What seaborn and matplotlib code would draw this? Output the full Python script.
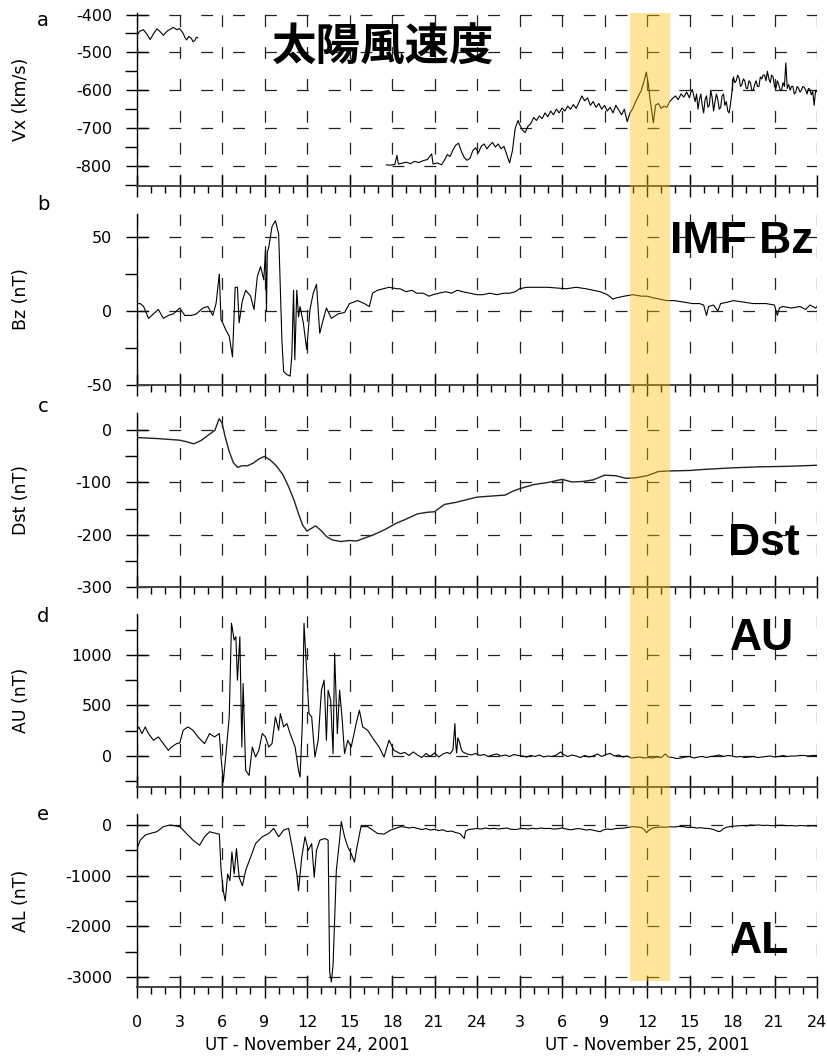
import matplotlib
matplotlib.use('Agg')
import matplotlib.pyplot as plt
import matplotlib.transforms as mtransforms
from matplotlib.patches import Rectangle
import seaborn as sns

# horas desde 0 UT del 24 de noviembre de 2001 (0-48)

# Vx viento solar (km/s), dos tramos con hueco de datos
vx_h1 = [0.0, 0.2, 0.45, 0.7, 0.93, 1.15, 1.4, 1.6, 1.86, 2.05, 2.2, 2.4, 2.56, 2.8,
         3.0, 3.15, 3.26, 3.4, 3.5, 3.65, 3.84, 3.95, 4.07, 4.2, 4.3]
vx_v1 = [-455, -444, -440, -452, -466, -452, -438, -444, -455, -447, -442, -438, -434, -440,
         -437, -444, -450, -462, -467, -458, -463, -472, -469, -460, -462]
vx_h2 = [17.6, 17.9, 18.2, 18.35, 18.45, 18.7, 19.0, 19.3, 19.6, 19.9, 20.2, 20.5, 20.8, 20.9,
         21.2, 21.5, 21.7, 21.9, 22.1, 22.3, 22.5, 22.7, 22.9, 23.1, 23.3, 23.5, 23.7, 23.9,
         24.1, 24.3, 24.5, 24.7, 24.9, 25.1, 25.3, 25.5, 25.7, 25.9, 26.1, 26.3, 26.5, 26.7,
         26.9, 27.0, 27.2, 27.4, 27.6, 27.8, 28.0, 28.2, 28.4, 28.6, 28.8, 29.0, 29.2, 29.4,
         29.6, 29.8, 30.0, 30.2, 30.4, 30.6, 30.8, 31.0, 31.2, 31.4, 31.6, 31.8, 32.0, 32.2,
         32.4, 32.6, 32.8, 33.0, 33.2, 33.4, 33.6, 33.8, 34.0, 34.2, 34.4, 34.6, 34.8, 35.0,
         35.2, 35.4, 35.6, 35.8, 35.95, 36.1, 36.2, 36.35, 36.45, 36.6, 36.8, 37.0, 37.2, 37.4,
         37.6, 37.8, 38.0, 38.2, 38.4, 38.6, 38.8, 39.0, 39.1, 39.2, 39.3, 39.4, 39.5, 39.6,
         39.7, 39.8, 39.9, 40.0, 40.1, 40.2, 40.3, 40.4, 40.5, 40.6, 40.7, 40.8, 40.9, 41.0,
         41.1, 41.2, 41.3, 41.4, 41.5, 41.6, 41.7, 41.8, 41.95, 42.1, 42.2, 42.3, 42.4, 42.5,
         42.6, 42.7, 42.8, 42.9, 43.0, 43.1, 43.2, 43.3, 43.4, 43.5, 43.6, 43.7, 43.8, 43.9,
         44.0, 44.1, 44.2, 44.3, 44.4, 44.5, 44.6, 44.7, 44.8, 44.9, 45.0, 45.1, 45.2, 45.3,
         45.4, 45.5, 45.6, 45.7, 45.8, 45.9, 46.0, 46.1, 46.2, 46.3, 46.4, 46.5, 46.6, 46.7,
         46.8, 46.9, 47.0, 47.1, 47.2, 47.3, 47.4, 47.5, 47.6, 47.7, 47.8, 47.9, 48.0]
vx_v2 = [-797, -798, -796, -772, -795, -793, -790, -794, -788, -791, -786, -783, -768, -795,
         -792, -797, -785, -770, -775, -758, -745, -740, -762, -778, -785, -780, -760, -752,
         -765, -748, -742, -755, -745, -738, -750, -742, -755, -748, -770, -792, -760, -700,
         -680, -690, -705, -712, -695, -688, -672, -680, -668, -675, -660, -670, -655, -665,
         -650, -660, -647, -655, -642, -650, -638, -648, -632, -615, -628, -620, -640, -630,
         -645, -635, -650, -640, -655, -645, -660, -640, -652, -665, -650, -683, -660, -648,
         -630, -615, -600, -575, -552, -585, -620, -660, -686, -640, -635, -648, -642, -645,
         -630, -622, -615, -625, -610, -618, -605, -620, -605, -598, -615, -630, -610, -650,
         -625, -610, -640, -660, -625, -615, -645, -640, -600, -620, -655, -630, -610, -625,
         -650, -645, -615, -610, -640, -630, -655, -660, -620, -565, -580, -575, -560, -568,
         -590, -585, -570, -575, -595, -595, -575, -580, -600, -600, -585, -575, -590, -590,
         -565, -570, -560, -560, -575, -550, -570, -580, -560, -565, -590, -595, -575, -585,
         -600, -600, -580, -590, -528, -595, -585, -600, -590, -590, -610, -605, -590, -595,
         -605, -600, -590, -592, -600, -610, -595, -598, -612, -603, -640, -600, -605]

# IMF Bz (nT)
bz_h = [0.0, 0.23, 0.47, 0.81, 1.16, 1.51, 1.86, 2.21, 2.56, 3.02, 3.37, 3.84, 4.19, 4.65,
        5.0, 5.35, 5.58, 5.81, 5.93, 6.05, 6.28, 6.51, 6.74, 6.93, 7.09, 7.21, 7.44, 7.67,
        8.02, 8.26, 8.49, 8.72, 8.95, 9.07, 9.14, 9.2, 9.3, 9.53, 9.77, 10.0, 10.1, 10.23,
        10.35, 10.58, 10.81, 10.93, 11.05, 11.14, 11.28, 11.4, 11.51, 11.74, 11.98, 12.21,
        12.44, 12.67, 12.9, 13.14, 13.37, 13.72, 14.19, 14.65, 15.0, 15.58, 16.05, 16.4,
        16.63, 16.98, 17.79, 18.37, 18.56, 19.0, 19.4, 19.74, 20.2, 20.6, 20.9, 21.3, 21.8,
        22.2, 22.6, 23.0, 23.5, 24.0, 24.4, 24.9, 25.4, 25.9, 26.3, 26.7, 27.0, 27.5, 28.0,
        29.0, 30.3, 31.0, 31.7, 32.2, 32.7, 33.2, 33.6, 33.9, 34.4, 35.0, 35.6, 36.0, 36.4,
        36.9, 37.4, 37.9, 38.6, 39.2, 39.7, 40.0, 40.2, 40.35, 40.7, 41.0, 41.2, 41.7, 42.1,
        42.8, 43.5, 44.4, 45.0, 45.2, 45.35, 45.6, 46.2, 46.8, 47.2, 47.5, 47.9, 48.0]
bz_v = [5, 5, 3, -5, -2, 1, -5, -3, -2, 2, -3, -3, -2, 2,
        3, -3, 5, 25, -6, -8, -13, -17, -31, 16, 16, -8, 7, 14,
        10, 1, 23, 30, 21, 41, 0, 40, 43, 57, 61, 52, 20, -20,
        -41, -43, -44, -30, 14, -33, 14, -4, 3, -8, -26, 1,
        12, 18, -15, -6, 2, -5, -2, -1, 5, 7, 5, 3,
        12, 14, 16, 15, 15, 13, 14, 12, 12, 10, 11, 12, 13,
        12, 14, 13, 12, 11, 11, 12, 11, 12, 12, 13, 15, 16, 16,
        16, 15, 16, 15, 14, 13, 11, 8, 9, 10, 11, 10, 10, 9,
        8, 7, 7, 6, 5, 5, 4, -3, 3, 4, 0, 5, 6, 7,
        6, 5, 5, 4, -3, 2, 3, 2, 3, 1, 4, 2, 3]

# Dst (nT)
dst_h = [0, 1.5, 3.0, 3.5, 4.0, 4.5, 5.0, 5.5, 5.8, 6.0, 6.2, 6.5, 6.8, 7.1, 7.4, 7.8, 8.2,
         8.6, 9.0, 9.4, 9.8, 10.3, 10.7, 11.1, 11.4, 11.7, 12.0, 12.3, 12.6, 13.0, 13.4,
         13.8, 14.4, 15.0, 15.5, 16.0, 16.7, 17.5, 18.3, 19.0, 19.8, 20.5, 21.0, 21.7, 22.5,
         23.4, 24.0, 25.0, 26.0, 26.5, 27.0, 28.0, 29.0, 30.0, 30.7, 31.5, 32.2, 33.0, 33.8,
         34.5, 35.2, 36.0, 36.8, 37.5, 39.0, 40.0, 42.0, 44.0, 46.0, 48.0]
dst_v = [-14, -16, -19, -22, -26, -20, -10, 0, 22, 14, -10, -40, -62, -71, -68, -68, -63,
         -55, -50, -57, -67, -85, -108, -135, -160, -182, -193, -188, -183, -192, -204,
         -210, -213, -211, -212, -207, -200, -190, -178, -170, -160, -157, -156, -142, -138,
         -132, -128, -126, -124, -117, -112, -104, -100, -94, -99, -98, -95, -86, -87,
         -92, -91, -87, -79, -78, -77, -75, -72, -70, -69, -67]

# AU (nT)
au_h = [0.0, 0.12, 0.35, 0.58, 0.81, 1.16, 1.51, 1.86, 2.21, 2.44, 2.79, 3.02, 3.26, 3.6,
        3.95, 4.3, 4.77, 5.12, 5.47, 5.81, 5.93, 6.09, 6.28, 6.51, 6.67, 6.86, 6.98, 7.09,
        7.26, 7.4, 7.49, 7.67, 7.91, 8.14, 8.37, 8.6, 8.84, 9.07, 9.3, 9.53, 9.77, 10.0,
        10.12, 10.35, 10.58, 10.81, 11.16, 11.4, 11.51, 11.67, 11.79, 11.98, 12.14, 12.33,
        12.56, 12.79, 13.02, 13.21, 13.37, 13.49, 13.67, 13.84, 13.95, 14.14, 14.3, 14.47,
        14.65, 14.88, 15.12, 15.47, 15.7, 15.93, 16.28, 16.74, 17.09, 17.44, 17.79, 18.14,
        18.6, 18.9, 19.2, 19.5, 19.8, 20.1, 20.4, 20.7, 21.0, 21.3, 21.6, 21.9, 22.1, 22.3,
        22.44, 22.5, 22.56, 22.65, 22.8, 22.9, 23.0, 23.3, 23.6, 23.9, 24.2, 24.5, 24.8, 25.1,
        25.4, 25.7, 26.0, 26.3, 26.6, 26.9, 27.2, 27.5, 27.8, 28.1, 28.4, 28.7, 29.0, 29.3,
        29.6, 29.9, 30.1, 30.4, 30.7, 31.0, 31.3, 31.6, 31.9, 32.2, 32.5, 32.8, 33.1, 33.4,
        33.7, 34.0, 34.3, 34.6, 34.9, 35.2, 35.5, 35.8, 36.1, 36.4, 36.7, 37.0, 37.3, 37.5,
        37.8, 38.1, 38.4, 38.7, 39.0, 39.3, 39.6, 39.9, 40.2, 40.5, 40.8, 41.1, 41.4, 41.7,
        42.0, 42.3, 42.6, 42.9, 43.2, 43.5, 43.8, 44.1, 44.4, 44.7, 45.0, 45.3, 45.6, 45.9,
        46.2, 46.5, 46.8, 47.1, 47.4, 47.7, 48.0]
au_v = [255, 288, 222, 288, 222, 156, 189, 122, 56, 89, 122, 130, 255, 288,
        255, 189, 122, 222, 189, 222, -10, -258, 23, 387, 1314, 1148, 1181, 751,
        1181, 89, 718, -142, -192, 89, -10, 56, 222, 189, 89, 122, 387, 255,
        420, 288, 321, 222, 89, -142, -208, 321, 1314, 818, 420, 387,
        -10, 156, 652, 751, 156, 652, 553, 23, 1016, 222, 652, 387,
        23, 156, 89, 321, 453, 288, 255, 156, 89, -10, 156, 56,
        23, 35, 5, 40, 10, -15, 25, -5, 30, -10, 20, 35, 23, 60,
        321, 120, 30, 180, 122, 60, 40, 20, 10, 25, 5, 15, -5, 10,
        20, 0, 10, -5, 15, 5, 0, -10, 5, -5, 10, -10, 0, -5,
        10, 40, 15, -5, 10, 0, -15, 5, -10, 0, 20, -5, 15, 25,
        0, 10, -10, 0, -20, -15, -10, -20, -15, -20, -10, -15, 20, -10,
        -15, -25, -20, -10, -5, -20, -10, -5, -15, -5, 0, 10, -5, 5,
        0, -10, -5, -15, -10, -5, -15, -10, -5, 0, -10, -5, 5, -5,
        0, 0, 5, 5, 0, 5, 5]

# AL (nT)
al_h = [0.0, 0.23, 0.58, 0.93, 1.4, 1.86, 2.33, 3.02, 3.49, 3.95, 4.42, 4.77, 5.12, 5.58,
        5.81, 5.93, 6.09, 6.23, 6.4, 6.56, 6.7, 6.86, 7.02, 7.21, 7.44, 7.67, 8.02, 8.37,
        8.84, 9.3, 9.65, 10.0, 10.35, 10.7, 10.93, 11.28, 11.4, 11.63, 11.86, 12.09, 12.33,
        12.51, 12.67, 12.91, 13.26, 13.49, 13.6, 13.72, 13.84, 14.07, 14.3, 14.42, 14.65,
        14.88, 15.12, 15.35, 15.53, 15.81, 16.28, 16.63, 16.98, 17.44, 17.91,
        18.6, 18.9, 19.2, 19.5, 19.8, 20.1, 20.4, 20.7, 21.0, 21.3, 21.6, 21.9, 22.2, 22.5,
        22.8, 22.9, 23.1, 23.2, 23.4, 23.7, 24.0, 24.3, 24.6, 24.9, 25.2, 25.5, 25.8, 26.1,
        26.4, 26.7, 27.0, 27.3, 27.6, 27.9, 28.2, 28.5, 28.8, 29.1, 29.4, 29.7, 30.0, 30.3,
        30.6, 30.8, 31.1, 31.4, 31.7, 32.0, 32.3, 32.7, 32.9, 33.2, 33.5, 33.8, 34.1, 34.4,
        34.7, 35.0, 35.3, 35.6, 35.8, 35.97, 36.1, 36.4, 36.7, 37.0, 37.3, 37.6, 37.9, 38.2,
        38.6, 38.9, 39.2, 39.5, 39.8, 40.1, 40.4, 40.7, 40.9, 41.05, 41.2, 41.4, 41.6, 41.9,
        42.2, 42.5, 42.8, 43.0, 43.3, 43.6, 43.9, 44.2, 44.5, 44.8, 45.1, 45.4, 45.6, 45.9,
        46.2, 46.5, 46.8, 47.1, 47.4, 47.7, 48.0]
al_v = [-467, -300, -200, -167, -133, -33, 0, -33, -167, -300, -400, -233, -133, -167,
        -180, -867, -1300, -1500, -967, -1100, -533, -967, -467, -1033, -1200, -900, -633, -367,
        -233, -167, -67, -233, -100, -67, -400, -967, -1300, -633, -233, -500, -367,
        -1033, -500, -300, -267, -300, -2900, -3100, -2767, -900, -300, 67, -233,
        -433, -567, -733, -433, -33, -33, -100, -167, -180, -100,
        -33, -40, -60, -45, -67, -90, -70, -100, -85, -110, -95, -130, -120, -150,
        -170, -200, -267, -120, -90, -80, -70, -80, -60, -75, -65, -80, -70, -60,
        -85, -90, -75, -70, -80, -65, -75, -60, -70, -67, -80, -75, -60, -80,
        -95, -87, -70, -80, -100, -90, -110, -133, -100, -80, -90, -70, -67, -60,
        -45, -33, -40, -50, -90, -153, -110, -60, -47, -40, -45, -35, -40, -30,
        -33, -50, -45, -60, -55, -65, -70, -90, -113, -130, -120, -70, -47, -30,
        -20, -15, -10, -20, 0, -5, 0, -10, -5, -15, -10, -5, -7, -15,
        -10, -20, -10, -15, -20, -15, -20]

band_start, band_end = 34.8, 37.6

# ---- estilo ----
sns.set_style('white')
plt.rcParams['font.family'] = ['DejaVu Sans', 'Noto Sans CJK JP']
plt.rcParams['axes.unicode_minus'] = False
plt.rcParams['text.color'] = 'k'
plt.rcParams['axes.labelcolor'] = 'k'
plt.rcParams['xtick.color'] = 'k'
plt.rcParams['ytick.color'] = 'k'

W, H = 827, 1059
fig = plt.figure(figsize=(W / 100, H / 100), dpi=100)

X0, X1 = 137, 817
paneles = [
    # top px, bottom px, ylim, mayores, menores, etiqueta, letra, y de la letra
    (13, 186, (-853, -396), [-400, -500, -600, -700, -800], [-450, -550, -650, -750, -850], 'Vx (km/s)', 'a', 20),
    (214, 385, (-50, 65.5), [50, 0, -50], [25, -25], 'Bz (nT)', 'b', 205),
    (413, 587, (-300, 33), [0, -100, -200, -300], [-50, -150, -250], 'Dst (nT)', 'c', 407),
    (614, 787, (-307, 1406), [1000, 500, 0], [1250, 750, 250, -250], 'AU (nT)', 'd', 617),
    (814, 987, (-3200, 217), [0, -1000, -2000, -3000], [-500, -1500, -2500], 'AL (nT)', 'e', 815),
]

axes = []
for top, bot, ylim, mayores, menores, etiqueta, letra, ly in paneles:
    ax = fig.add_axes([X0 / W, 1 - bot / H, (X1 - X0) / W, (bot - top) / H])
    ax.set_facecolor('none')
    ax.set_xlim(0, 48)
    ax.set_ylim(*ylim)
    ax.set_yticks(mayores)
    ax.set_yticks(menores, minor=True)
    ax.set_xticks(range(0, 49, 3))
    ax.set_xticks(range(0, 49), minor=True)
    for s in ['top', 'right']:
        ax.spines[s].set_visible(False)
    ax.spines['left'].set_color('k')
    ax.spines['left'].set_linewidth(1.0)
    ax.spines['bottom'].set_color('#444444')
    ax.spines['bottom'].set_linewidth(1.4)
    ax.tick_params(which='both', bottom=True, left=True, top=False, right=False)
    ax.tick_params(which='major', direction='inout', length=16, width=1, color='k',
                   labelsize=11.5, pad=10, labelcolor='k')
    ax.tick_params(axis='y', which='minor', direction='out', length=8.5, width=1, color='k')
    ax.tick_params(axis='x', which='minor', direction='out', length=5, width=1, color='k')
    ax.tick_params(axis='x', labelbottom=False)
    ax.grid(True, which='major', color='#222222', lw=0.9, linestyle=(0, (9.5, 16)))
    fig.text(43 / W, 1 - ly / H, letra, fontsize=14, ha='center', va='center', color='k')
    axes.append(ax)

ax_a, ax_b, ax_c, ax_d, ax_e = axes

lw = 0.8
sns.lineplot(x=vx_h1, y=vx_v1, ax=ax_a, color='k', lw=lw, estimator=None, sort=False)
sns.lineplot(x=vx_h2, y=vx_v2, ax=ax_a, color='k', lw=lw, estimator=None, sort=False)
sns.lineplot(x=bz_h, y=bz_v, ax=ax_b, color='k', lw=lw, estimator=None, sort=False)
sns.lineplot(x=dst_h, y=dst_v, ax=ax_c, color='#222222', lw=1.0, estimator=None, sort=False)
sns.lineplot(x=au_h, y=au_v, ax=ax_d, color='k', lw=lw, estimator=None, sort=False)
sns.lineplot(x=al_h, y=al_v, ax=ax_e, color='k', lw=lw, estimator=None, sort=False)

for ax, panel in zip(axes, paneles):
    ax.set_xlabel('')
    ax.set_ylabel(panel[5], fontsize=12.5, color='k')
    ax.yaxis.set_label_coords(-0.157, 0.5)

# eje x inferior
ax_e.tick_params(axis='x', labelbottom=True, pad=12)
ax_e.set_xticklabels([str(h if h <= 24 else h - 24) for h in range(0, 49, 3)])
mezcla = mtransforms.blended_transform_factory(ax_e.transData, fig.transFigure)
ax_e.text(12, 1 - 1045 / H, 'UT - November 24, 2001', transform=mezcla,
          ha='center', va='center', fontsize=12, color='k')
ax_e.text(36, 1 - 1045 / H, 'UT - November 25, 2001', transform=mezcla,
          ha='center', va='center', fontsize=12, color='k')

# franja amarilla sobre todos los paneles
franja = Rectangle((band_start, 1 - 981 / H), band_end - band_start, (981 - 13) / H,
                   transform=mezcla, facecolor='#FFC000', alpha=0.4, lw=0, zorder=10)
fig.add_artist(franja)

# rótulos grandes
fig.text(272 / W, 1 - 48 / H, '太陽風速度', fontsize=32, fontweight='bold', color='k',
         family=['Noto Sans CJK JP'], ha='left', va='center')
for txt, xpx, ypx in [('IMF Bz', 670, 253), ('Dst', 728, 555), ('AU', 730, 650), ('AL', 730, 953)]:
    fig.text(xpx / W, 1 - ypx / H, txt, fontsize=32, fontweight='bold', color='k',
             family=['Liberation Sans'], ha='left', va='baseline')

fig.savefig('out.png', dpi=100)
